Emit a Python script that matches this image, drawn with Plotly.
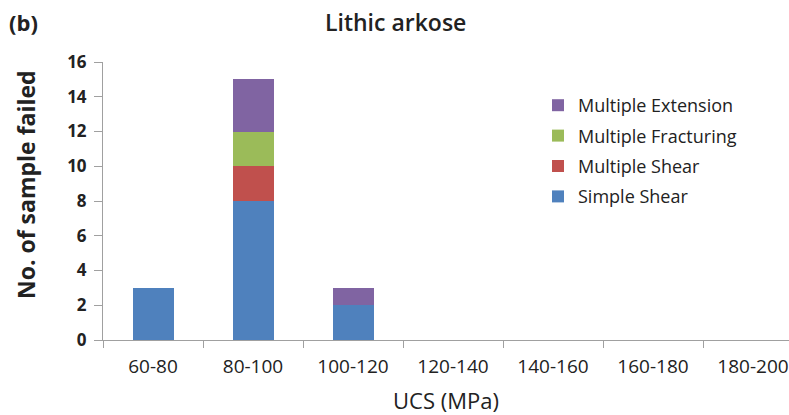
import plotly.graph_objects as go

categories = ["60-80", "80-100", "100-120", "120-140", "140-160", "160-180", "180-200"]
simple_shear = [3, 8, 2, 0, 0, 0, 0]
multiple_shear = [0, 2, 0, 0, 0, 0, 0]
multiple_fracturing = [0, 2, 0, 0, 0, 0, 0]
multiple_extension = [0, 3, 1, 0, 0, 0, 0]

series = [
    ("Simple Shear", simple_shear, "#4F81BD", 4),
    ("Multiple Shear", multiple_shear, "#C0504D", 3),
    ("Multiple Fracturing", multiple_fracturing, "#9BBB59", 2),
    ("Multiple Extension", multiple_extension, "#8064A2", 1),
]

fig = go.Figure()
for name, vals, color, rank in series:
    fig.add_trace(go.Bar(x=categories, y=vals, name=name,
                         marker=dict(color=color, line=dict(width=0)),
                         legendgroup=name, legendrank=rank))

font_family = "Open Sans, Liberation Sans, sans-serif"
L, R, T, B = 103, 0, 62, 75
W, H = 789, 415
pw, ph = W - L - R, H - T - B

fig.update_layout(
    width=W, height=H,
    barmode="stack", bargap=0.59,
    plot_bgcolor="white", paper_bgcolor="white",
    margin=dict(l=L, r=R, t=T, b=B),
    font=dict(family=font_family, color="#222222"),
    showlegend=True,
    legend=dict(x=(538 - L) / pw, y=(340 - 87) / ph, xanchor="left", yanchor="top",
                traceorder="grouped", tracegroupgap=4,
                font=dict(size=18, color="#222222"), itemwidth=30,
                bgcolor="rgba(0,0,0,0)"),
    xaxis=dict(
        type="category",
        range=[-0.5, 6.36],
        automargin=False,
        showline=True, linecolor="#A0A0A0", linewidth=1,
        ticks="outside", ticklen=7, tickcolor="#A0A0A0", tickson="boundaries",
        ticklabelstandoff=9,
        showgrid=False, zeroline=False,
        tickfont=dict(size=19, color="#222222"),
        title=dict(text="UCS (MPa)", font=dict(size=22, color="#222222"), standoff=22),
    ),
    yaxis=dict(
        range=[0, 16], dtick=2,
        showline=True, linecolor="#A0A0A0", linewidth=1,
        ticks="outside", ticklen=8, tickcolor="#A0A0A0",
        ticklabelstandoff=4,
        showgrid=False, zeroline=False,
        tickfont=dict(size=17, color="#222222", weight="bold"),
    ),
    annotations=[
        dict(text="Lithic arkose", x=(395 - L) / pw, y=(H - B - 22) / ph, xref="paper", yref="paper",
             showarrow=False, xanchor="center", yanchor="middle",
             font=dict(size=23, color="#222222", weight=600)),
        dict(text="<b>(b)</b>", x=(7 - L) / pw, y=(H - B - 22) / ph, xref="paper", yref="paper",
             showarrow=False, xanchor="left", yanchor="middle",
             font=dict(size=22, color="#222222")),
        dict(text="<b>No. of sample failed</b>", x=(26 - L) / pw, y=(H - B - 185) / ph,
             xref="paper", yref="paper", showarrow=False, textangle=-90,
             xanchor="center", yanchor="middle",
             font=dict(size=23, color="#222222")),
    ],
)

fig.write_html("out.html")
